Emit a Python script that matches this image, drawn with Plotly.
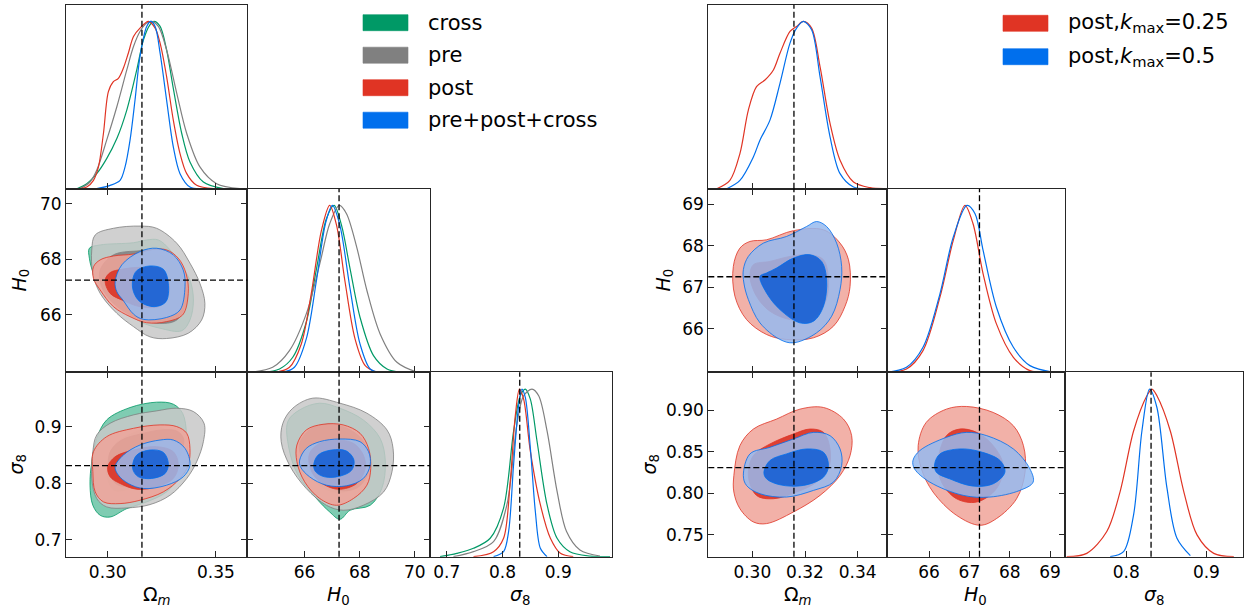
import plotly.graph_objects as go

W, H = 1250, 609
FONT = "DejaVu Sans"

# ---------------- series / legend ----------------
LEFT_SERIES = ["cross", "pre", "post", "all"]
LEFT_LABELS = ["cross", "pre", "post", "pre+post+cross"]
RIGHT_SERIES = ["post", "all"]
RIGHT_LABELS = ["post,<i>k</i><sub>max</sub>=0.25", "post,<i>k</i><sub>max</sub>=0.5"]

COLOR = {"cross": "#009966", "pre": "#808080", "post": "#E03424", "all": "#006FED"}
FILL2 = {"cross": "rgba(0,153,102,0.5)", "pre": "rgba(200,200,200,0.85)",
         "post": "rgba(240,163,153,0.85)", "all": "rgba(150,186,238,0.85)"}
FILL1 = {"cross": "rgba(0,153,102,0.85)", "pre": "rgba(128,128,128,0.85)",
         "post": "rgba(218,48,34,0.88)", "all": "rgba(22,96,212,0.9)"}

# fiducial values (dashed markers)
OM_FID, H0_FID, S8_FID = 0.3158, 67.25, 0.831

# axis ranges / ticks
L_RANGES = [[0.2807, 0.3645], [63.92, 70.55], [0.670, 0.996]]
R_RANGES = [[0.2833, 0.3510], [64.95, 69.37], [0.7237, 0.9460]]
L_XTICKS = [[0.30, 0.35], [66, 68, 70], [0.7, 0.8, 0.9]]
L_XTEXT = [["0.30", "0.35"], ["66", "68", "70"], ["0.7", "0.8", "0.9"]]
L_YTICKS = [None, [66, 68, 70], [0.7, 0.8, 0.9]]
L_YTEXT = [None, ["66", "68", "70"], ["0.7", "0.8", "0.9"]]
R_XTICKS = [[0.30, 0.32, 0.34], [66, 67, 68, 69], [0.8, 0.9]]
R_XTEXT = [["0.30", "0.32", "0.34"], ["66", "67", "68", "69"], ["0.8", "0.9"]]
R_YTICKS = [None, [66, 67, 68, 69], [0.75, 0.80, 0.85, 0.90]]
R_YTEXT = [None, ["66", "67", "68", "69"], ["0.75", "0.80", "0.85", "0.90"]]
AX_TITLES = ["Ω<sub><i>m</i></sub>", "<i>H</i><sub>0</sub>", "<i>σ</i><sub>8</sub>"]

# ---------------- 1D marginals (x, normalised density) ----------------
L_OM_CROSS = ([0.2857, 0.2903, 0.2949, 0.2995, 0.3042, 0.3088, 0.3134, 0.3165, 0.3195, 0.3214, 0.3242, 0.3272, 0.3303, 0.3342, 0.3380, 0.3442, 0.3534],
              [0, 0.03, 0.09, 0.18, 0.30, 0.47, 0.71, 0.89, 0.98, 1.0, 0.97, 0.83, 0.60, 0.33, 0.16, 0.04, 0])
L_OM_PRE = ([0.2872, 0.2918, 0.2949, 0.2995, 0.3042, 0.3088, 0.3119, 0.3149, 0.3180, 0.3203, 0.3234, 0.3272, 0.3319, 0.3365, 0.3426, 0.3503, 0.3611],
            [0, 0.04, 0.11, 0.29, 0.49, 0.71, 0.85, 0.94, 0.99, 1.0, 0.97, 0.83, 0.57, 0.33, 0.13, 0.03, 0])
L_OM_POST = ([0.2865, 0.2903, 0.2934, 0.2957, 0.2980, 0.3003, 0.3026, 0.3049, 0.3072, 0.3095, 0.3119, 0.3149, 0.3188, 0.3219, 0.3242, 0.3272, 0.3303, 0.3334, 0.3365, 0.3411, 0.3488],
             [0, 0.01, 0.05, 0.13, 0.33, 0.58, 0.64, 0.66, 0.72, 0.81, 0.91, 0.96, 1.0, 0.96, 0.87, 0.67, 0.41, 0.21, 0.09, 0.02, 0])
L_OM_ALL = ([0.2949, 0.3011, 0.3057, 0.3080, 0.3103, 0.3126, 0.3149, 0.3180, 0.3199, 0.3219, 0.3242, 0.3272, 0.3303, 0.3334, 0.3380, 0.3426],
            [0, 0.02, 0.05, 0.13, 0.29, 0.53, 0.79, 0.97, 1.0, 0.97, 0.81, 0.53, 0.25, 0.09, 0.01, 0])

L_H0_CROSS = ([64.48, 65.09, 65.57, 66.06, 66.43, 66.79, 67.07, 67.34, 67.65, 68.01, 68.50, 68.99, 69.48],
              [0, 0.02, 0.09, 0.30, 0.62, 0.92, 1.0, 0.88, 0.62, 0.33, 0.10, 0.02, 0])
L_H0_PRE = ([63.99, 64.84, 65.45, 66.06, 66.55, 66.91, 67.26, 67.52, 67.89, 68.26, 68.74, 69.35, 70.09],
            [0, 0.03, 0.13, 0.35, 0.65, 0.89, 1.0, 0.95, 0.75, 0.49, 0.23, 0.06, 0])
L_H0_POST = ([64.96, 65.45, 65.88, 66.24, 66.61, 66.91, 67.16, 67.46, 67.83, 68.20, 68.62],
             [0, 0.03, 0.17, 0.47, 0.85, 1.0, 0.88, 0.55, 0.20, 0.04, 0])
L_H0_ALL = ([65.21, 65.63, 66.06, 66.43, 66.77, 67.01, 67.28, 67.65, 68.01, 68.38, 68.74],
            [0, 0.03, 0.20, 0.55, 0.90, 1.0, 0.88, 0.50, 0.17, 0.02, 0])

L_S8_CROSS = ([0.688, 0.718, 0.748, 0.778, 0.802, 0.820, 0.832, 0.841, 0.850, 0.862, 0.880, 0.898, 0.921, 0.957, 0.993],
              [0, 0.02, 0.05, 0.11, 0.29, 0.75, 0.96, 1.0, 0.94, 0.69, 0.31, 0.11, 0.03, 0.004, 0])
L_S8_PRE = ([0.712, 0.748, 0.784, 0.808, 0.826, 0.838, 0.853, 0.865, 0.880, 0.898, 0.915, 0.939, 0.975],
            [0, 0.03, 0.09, 0.31, 0.79, 0.96, 1.0, 0.96, 0.75, 0.39, 0.15, 0.04, 0.004])
L_S8_POST = ([0.748, 0.784, 0.802, 0.814, 0.823, 0.8305, 0.838, 0.850, 0.868, 0.886, 0.904, 0.927],
             [0, 0.03, 0.11, 0.45, 0.84, 1.0, 0.94, 0.63, 0.31, 0.11, 0.02, 0])
L_S8_ALL = ([0.784, 0.802, 0.811, 0.820, 0.829, 0.835, 0.841, 0.850, 0.859, 0.868, 0.880],
            [0, 0.03, 0.15, 0.55, 0.90, 1.0, 0.95, 0.65, 0.27, 0.05, 0])

R_OM_POST = ([0.2865, 0.2915, 0.2953, 0.2985, 0.3016, 0.3048, 0.3080, 0.3105, 0.3143, 0.3168, 0.3194, 0.3225, 0.3257, 0.3295, 0.3333, 0.3384, 0.3447, 0.3498],
             [0, 0.05, 0.21, 0.47, 0.61, 0.65, 0.71, 0.81, 0.94, 0.97, 1.0, 0.96, 0.73, 0.39, 0.17, 0.04, 0.006, 0])
R_OM_ALL = ([0.2903, 0.2953, 0.3004, 0.3029, 0.3067, 0.3105, 0.3143, 0.3168, 0.3194, 0.3225, 0.3257, 0.3295, 0.3333, 0.3384, 0.3434],
            [0, 0.05, 0.19, 0.29, 0.41, 0.63, 0.87, 0.96, 1.0, 0.95, 0.67, 0.31, 0.09, 0.01, 0])
R_H0_POST = ([64.94, 65.44, 65.85, 66.27, 66.60, 66.89, 67.09, 67.34, 67.67, 68.09, 68.50, 68.92],
             [0, 0.02, 0.13, 0.45, 0.79, 1.0, 0.89, 0.59, 0.29, 0.09, 0.01, 0])
R_H0_ALL = ([64.94, 65.44, 65.85, 66.27, 66.60, 66.94, 67.14, 67.34, 67.67, 68.09, 68.50, 69.08],
            [0, 0.03, 0.15, 0.47, 0.81, 1.0, 0.95, 0.73, 0.39, 0.15, 0.04, 0])
R_S8_POST = ([0.7258, 0.7508, 0.7758, 0.7925, 0.8092, 0.8258, 0.8321, 0.8383, 0.855, 0.8717, 0.8883, 0.9092, 0.9342],
             [0, 0.02, 0.15, 0.39, 0.75, 0.96, 1.0, 0.96, 0.75, 0.39, 0.13, 0.02, 0])
R_S8_ALL = ([0.78, 0.7967, 0.8092, 0.8196, 0.8292, 0.8383, 0.8508, 0.8633, 0.88],
            [0, 0.03, 0.25, 0.75, 1.0, 0.89, 0.41, 0.11, 0.006])

# ---------------- 2D contours (2sigma outer, 1sigma inner) ----------------
# left: Omega_m - H0
L_OH_CROSS_2 = ([0.2915, 0.2965, 0.3119, 0.3180, 0.3234, 0.3288, 0.3342, 0.3380, 0.3396, 0.3380, 0.3342, 0.3242, 0.3149, 0.3057, 0.2980, 0.2934, 0.2915],
                [68.40, 68.52, 68.60, 68.70, 68.70, 68.34, 67.73, 67.25, 66.53, 65.81, 65.42, 65.51, 65.75, 66.29, 66.89, 67.49, 68.04])
L_OH_CROSS_1 = ([0.2975, 0.3030, 0.3130, 0.3230, 0.3300, 0.3340, 0.3340, 0.3290, 0.3195, 0.3110, 0.3035, 0.2985],
                [67.60, 67.98, 68.15, 68.18, 67.90, 67.30, 66.55, 66.00, 65.90, 66.15, 66.60, 67.10])
L_OH_PRE_2 = ([0.2942, 0.3026, 0.3149, 0.3226, 0.3319, 0.3380, 0.3426, 0.3449, 0.3434, 0.3372, 0.3272, 0.3195, 0.3119, 0.3042, 0.2965, 0.2931, 0.2926],
              [68.88, 69.12, 69.20, 69.12, 68.58, 67.86, 67.13, 66.41, 65.81, 65.33, 65.14, 65.20, 65.57, 66.05, 66.77, 67.49, 68.34])
L_OH_PRE_1 = ([0.2965, 0.3026, 0.3149, 0.3242, 0.3303, 0.3349, 0.3365, 0.3319, 0.3226, 0.3119, 0.3026, 0.2972],
              [67.61, 68.16, 68.31, 68.36, 68.10, 67.37, 66.53, 65.81, 65.69, 65.93, 66.41, 67.01])
L_OH_POST_2 = ([0.2934, 0.2965, 0.3026, 0.3119, 0.3211, 0.3272, 0.3326, 0.3362, 0.3372, 0.3346, 0.3272, 0.3180, 0.3103, 0.3026, 0.2965, 0.2934],
               [67.73, 67.98, 68.12, 68.19, 68.36, 68.34, 68.04, 67.49, 66.77, 65.99, 65.75, 65.71, 65.93, 66.29, 66.89, 67.31])
L_OH_POST_1 = ([0.2988, 0.3011, 0.3065, 0.3149, 0.3242, 0.3280, 0.3280, 0.3242, 0.3149, 0.3072, 0.3011],
               [67.25, 67.52, 67.64, 67.71, 67.64, 67.25, 66.65, 66.31, 66.29, 66.51, 66.77])
L_OH_ALL_2 = ([0.3034, 0.3065, 0.3149, 0.3226, 0.3303, 0.3349, 0.3357, 0.3334, 0.3272, 0.3165, 0.3119, 0.3072, 0.3042],
              [67.19, 67.80, 68.28, 68.40, 68.16, 67.61, 67.01, 66.17, 65.90, 65.83, 66.02, 66.51, 66.83])
L_OH_ALL_1 = ([0.3115, 0.3134, 0.3195, 0.3257, 0.3280, 0.3269, 0.3214, 0.3149, 0.3119],
              [67.25, 67.59, 67.76, 67.64, 67.13, 66.47, 66.29, 66.47, 66.83])

# left: Omega_m - sigma8
L_OS_CROSS_2 = ([0.2995, 0.3103, 0.3226, 0.3303, 0.3346, 0.3365, 0.3365, 0.3334, 0.3272, 0.3180, 0.3088, 0.3011, 0.2965, 0.2931, 0.2918, 0.2926, 0.2949],
                [0.9118, 0.9337, 0.9432, 0.9396, 0.9237, 0.8852, 0.8438, 0.8142, 0.7846, 0.7669, 0.7550, 0.7402, 0.7432, 0.7609, 0.7964, 0.8379, 0.8793])
L_OS_CROSS_1 = ([0.3000, 0.3041, 0.3122, 0.3202, 0.3260, 0.3283, 0.3283, 0.3249, 0.3179, 0.3099, 0.3029, 0.2997],
                [0.8429, 0.8717, 0.8894, 0.9005, 0.8961, 0.8783, 0.8473, 0.8207, 0.8007, 0.7896, 0.7874, 0.8118])
L_OS_PRE_2 = ([0.2949, 0.3011, 0.3119, 0.3226, 0.3319, 0.3396, 0.3445, 0.3442, 0.3411, 0.3365, 0.3288, 0.3195, 0.3088, 0.2995, 0.2949, 0.2926, 0.2931],
              [0.8852, 0.9059, 0.9207, 0.9278, 0.9325, 0.9266, 0.9059, 0.8734, 0.8379, 0.8083, 0.7787, 0.7621, 0.7562, 0.7580, 0.7728, 0.8083, 0.8556])
L_OS_PRE_1 = ([0.3009, 0.3062, 0.3157, 0.3250, 0.3321, 0.3351, 0.3339, 0.3298, 0.3215, 0.3122, 0.3039, 0.3009],
              [0.8534, 0.8757, 0.8874, 0.8941, 0.8919, 0.8779, 0.8534, 0.8257, 0.8033, 0.7942, 0.7987, 0.8223])
L_OS_POST_2 = ([0.2934, 0.2995, 0.3119, 0.3242, 0.3319, 0.3365, 0.3380, 0.3372, 0.3334, 0.3257, 0.3149, 0.3057, 0.2980, 0.2942, 0.2931],
               [0.8556, 0.8822, 0.8970, 0.9030, 0.9000, 0.8882, 0.8615, 0.8320, 0.8083, 0.7846, 0.7698, 0.7639, 0.7669, 0.7846, 0.8201])
L_OS_POST_1 = ([0.3000, 0.3034, 0.3119, 0.3226, 0.3303, 0.3326, 0.3303, 0.3226, 0.3134, 0.3057, 0.3011],
               [0.8290, 0.8467, 0.8586, 0.8645, 0.8556, 0.8320, 0.8083, 0.7935, 0.7893, 0.7994, 0.8112])
L_OS_ALL_2 = ([0.3034, 0.3072, 0.3149, 0.3242, 0.3303, 0.3357, 0.3380, 0.3349, 0.3272, 0.3165, 0.3095, 0.3049],
              [0.8290, 0.8497, 0.8675, 0.8763, 0.8763, 0.8615, 0.8320, 0.8112, 0.7964, 0.7905, 0.7994, 0.8142])
L_OS_ALL_1 = ([0.3115, 0.3134, 0.3195, 0.3257, 0.3280, 0.3265, 0.3203, 0.3142, 0.3119],
              [0.8320, 0.8497, 0.8586, 0.8544, 0.8349, 0.8172, 0.8083, 0.8112, 0.8213])

# left: H0 - sigma8
L_HS_CROSS_2 = ([65.39, 65.82, 66.55, 67.28, 68.13, 68.74, 68.93, 68.80, 68.38, 67.65, 67.28, 66.91, 66.43, 65.76, 65.43],
                [0.9089, 0.9296, 0.9414, 0.9325, 0.9118, 0.8793, 0.8379, 0.7905, 0.7609, 0.7521, 0.7361, 0.7491, 0.7728, 0.8142, 0.8615])
L_HS_CROSS_1 = ([65.90, 66.25, 66.83, 67.42, 67.90, 68.15, 68.10, 67.71, 67.13, 66.54, 66.06],
                [0.8616, 0.8888, 0.8998, 0.8927, 0.8738, 0.8454, 0.8099, 0.7886, 0.7838, 0.7957, 0.8237])
L_HS_PRE_2 = ([65.21, 65.57, 66.30, 67.28, 68.26, 68.99, 69.21, 69.17, 68.87, 68.13, 67.40, 66.79, 66.06, 65.45, 65.15],
              [0.9059, 0.9325, 0.9503, 0.9414, 0.9237, 0.8941, 0.8615, 0.8201, 0.7846, 0.7609, 0.7521, 0.7609, 0.7905, 0.8320, 0.8734])
L_HS_PRE_1 = ([65.81, 66.19, 66.86, 67.53, 68.10, 68.33, 68.29, 67.91, 67.24, 66.58, 66.05],
              [0.8672, 0.8950, 0.9042, 0.8973, 0.8765, 0.8487, 0.8165, 0.7918, 0.7872, 0.8023, 0.8302])
L_HS_POST_2 = ([65.72, 66.06, 66.67, 67.40, 68.01, 68.32, 68.40, 68.26, 67.77, 67.16, 66.55, 66.00, 65.72],
               [0.8675, 0.8941, 0.9041, 0.9030, 0.8882, 0.8615, 0.8260, 0.7964, 0.7728, 0.7609, 0.7728, 0.8024, 0.8379])
L_HS_POST_1 = ([66.18, 66.55, 67.16, 67.77, 68.13, 68.20, 67.89, 67.22, 66.55, 66.21],
               [0.8527, 0.8704, 0.8763, 0.8704, 0.8497, 0.8260, 0.7994, 0.7893, 0.8024, 0.8260])
L_HS_ALL_2 = ([65.82, 66.06, 66.55, 67.28, 68.01, 68.32, 68.38, 68.13, 67.52, 66.79, 66.18, 65.85],
              [0.8408, 0.8615, 0.8734, 0.8781, 0.8734, 0.8556, 0.8320, 0.8083, 0.7953, 0.7964, 0.8112, 0.8290])
L_HS_ALL_1 = ([66.33, 66.49, 66.98, 67.52, 67.79, 67.71, 67.28, 66.73, 66.40],
              [0.8320, 0.8497, 0.8586, 0.8568, 0.8408, 0.8231, 0.8124, 0.8112, 0.8201])

# right: Omega_m - H0
R_OH_POST_2 = ([0.2928, 0.2953, 0.2991, 0.3054, 0.3156, 0.3270, 0.3333, 0.3365, 0.3371, 0.3352, 0.3308, 0.3232, 0.3130, 0.3054, 0.2978, 0.2934],
               [67.50, 67.94, 68.10, 68.14, 68.36, 68.38, 68.06, 67.66, 67.02, 66.54, 66.06, 65.78, 65.74, 65.86, 66.22, 66.78])
R_OH_POST_1 = ([0.2991, 0.3004, 0.3067, 0.3143, 0.3219, 0.3270, 0.3289, 0.3276, 0.3219, 0.3143, 0.3067, 0.3016],
               [67.26, 67.54, 67.62, 67.74, 67.78, 67.66, 67.18, 66.62, 66.22, 66.22, 66.42, 66.78])
R_OH_ALL_2 = ([0.2966, 0.2985, 0.3042, 0.3130, 0.3206, 0.3244, 0.3282, 0.3320, 0.3339, 0.3333, 0.3301, 0.3244, 0.3156, 0.3105, 0.3029, 0.2985, 0.2968],
              [67.42, 67.74, 68.06, 68.22, 68.46, 68.58, 68.46, 68.06, 67.50, 66.94, 66.30, 65.90, 65.66, 65.74, 66.14, 66.70, 67.10])
R_OH_ALL_1 = ([0.3029, 0.3054, 0.3092, 0.3156, 0.3219, 0.3263, 0.3282, 0.3270, 0.3232, 0.3181, 0.3105, 0.3054],
              [67.26, 67.34, 67.46, 67.70, 67.78, 67.62, 67.18, 66.54, 66.18, 66.14, 66.46, 66.86])

# right: Omega_m - sigma8
R_OS_POST_2 = ([0.2930, 0.2953, 0.3004, 0.3092, 0.3181, 0.3270, 0.3346, 0.3377, 0.3371, 0.3333, 0.3257, 0.3156, 0.3054, 0.3004, 0.2953, 0.2930],
               [0.8216, 0.8576, 0.8776, 0.8896, 0.9016, 0.9036, 0.8896, 0.8696, 0.8456, 0.8216, 0.7976, 0.7776, 0.7636, 0.7656, 0.7816, 0.8016])
R_OS_POST_1 = ([0.2985, 0.3004, 0.3067, 0.3156, 0.3219, 0.3270, 0.3295, 0.3289, 0.3244, 0.3168, 0.3080, 0.3016],
               [0.8216, 0.8456, 0.8596, 0.8716, 0.8776, 0.8736, 0.8536, 0.8296, 0.8136, 0.8016, 0.7936, 0.7976])
R_OS_ALL_2 = ([0.2966, 0.2991, 0.3067, 0.3156, 0.3232, 0.3295, 0.3333, 0.3339, 0.3308, 0.3232, 0.3130, 0.3029, 0.2978],
              [0.8216, 0.8476, 0.8556, 0.8656, 0.8736, 0.8696, 0.8536, 0.8336, 0.8136, 0.8036, 0.7956, 0.7996, 0.8096])
R_OS_ALL_1 = ([0.3044, 0.3067, 0.3130, 0.3206, 0.3270, 0.3289, 0.3270, 0.3194, 0.3105, 0.3054],
              [0.8256, 0.8396, 0.8476, 0.8536, 0.8496, 0.8336, 0.8196, 0.8096, 0.8104, 0.8176])

# right: H0 - sigma8
R_HS_POST_2 = ([65.73, 65.93, 66.43, 66.93, 67.59, 68.09, 68.34, 68.38, 68.17, 67.67, 67.26, 66.68, 66.10, 65.81],
               [0.8576, 0.8856, 0.9016, 0.9048, 0.8976, 0.8816, 0.8576, 0.8256, 0.7936, 0.7696, 0.7616, 0.7736, 0.8016, 0.8296])
R_HS_POST_1 = ([66.22, 66.43, 66.76, 67.18, 67.59, 67.84, 67.67, 67.18, 66.68, 66.31],
               [0.8376, 0.8696, 0.8776, 0.8736, 0.8576, 0.8336, 0.8056, 0.7896, 0.7936, 0.8136])
R_HS_ALL_2 = ([65.60, 65.77, 66.43, 66.93, 67.43, 68.09, 68.50, 68.58, 68.25, 67.51, 66.85, 66.02, 65.64],
              [0.8396, 0.8516, 0.8676, 0.8736, 0.8696, 0.8536, 0.8296, 0.8136, 0.8036, 0.7956, 0.7976, 0.8136, 0.8296])
R_HS_ALL_1 = ([66.14, 66.27, 66.76, 67.26, 67.76, 67.88, 67.59, 67.09, 66.51, 66.18],
              [0.8356, 0.8476, 0.8536, 0.8504, 0.8396, 0.8256, 0.8116, 0.8088, 0.8176, 0.8256])

# ---------------- assembly ----------------
TRIANGLES = [
    dict(cols=[(66, 247.3), (247.3, 430), (430, 611.7)], ranges=L_RANGES,
         xt=L_XTICKS, xtt=L_XTEXT, yt=L_YTICKS, ytt=L_YTEXT, series=LEFT_SERIES,
         diag={0: [L_OM_CROSS, L_OM_PRE, L_OM_POST, L_OM_ALL],
               1: [L_H0_CROSS, L_H0_PRE, L_H0_POST, L_H0_ALL],
               2: [L_S8_CROSS, L_S8_PRE, L_S8_POST, L_S8_ALL]},
         off={(1, 0): [(L_OH_CROSS_2, L_OH_CROSS_1), (L_OH_PRE_2, L_OH_PRE_1), (L_OH_POST_2, L_OH_POST_1), (L_OH_ALL_2, L_OH_ALL_1)],
              (2, 0): [(L_OS_CROSS_2, L_OS_CROSS_1), (L_OS_PRE_2, L_OS_PRE_1), (L_OS_POST_2, L_OS_POST_1), (L_OS_ALL_2, L_OS_ALL_1)],
              (2, 1): [(L_HS_CROSS_2, L_HS_CROSS_1), (L_HS_PRE_2, L_HS_PRE_1), (L_HS_POST_2, L_HS_POST_1), (L_HS_ALL_2, L_HS_ALL_1)]},
         ytitle_x=[None, 20, 17]),
    dict(cols=[(708.3, 886.7), (886.7, 1065), (1065, 1243.3)], ranges=R_RANGES,
         xt=R_XTICKS, xtt=R_XTEXT, yt=R_YTICKS, ytt=R_YTEXT, series=RIGHT_SERIES,
         diag={0: [R_OM_POST, R_OM_ALL], 1: [R_H0_POST, R_H0_ALL], 2: [R_S8_POST, R_S8_ALL]},
         off={(1, 0): [(R_OH_POST_2, R_OH_POST_1), (R_OH_ALL_2, R_OH_ALL_1)],
              (2, 0): [(R_OS_POST_2, R_OS_POST_1), (R_OS_ALL_2, R_OS_ALL_1)],
              (2, 1): [(R_HS_POST_2, R_HS_POST_1), (R_HS_ALL_2, R_HS_ALL_1)]},
         ytitle_x=[None, 664, 650]),
]
ROWS = [(4.7, 188.7), (188.7, 372.3), (372.3, 556.7)]
FIDS = [OM_FID, H0_FID, S8_FID]
PANELS = [(0, 0), (1, 0), (1, 1), (2, 0), (2, 1), (2, 2)]

fig = go.Figure()
layout = dict(width=W, height=H, margin=dict(l=0, r=0, t=0, b=0),
              paper_bgcolor="white", plot_bgcolor="white", showlegend=False,
              font=dict(family=FONT, size=17, color="black"))
shapes, annots = [], []
AX_COL = "#262626"


def closed(xs, ys):
    return list(xs) + [xs[0]], list(ys) + [ys[0]]


k = 0
for t, tri in enumerate(TRIANGLES):
    for (r, c) in PANELS:
        k += 1
        xname = "xaxis" if k == 1 else f"xaxis{k}"
        yname = "yaxis" if k == 1 else f"yaxis{k}"
        xr = "x" if k == 1 else f"x{k}"
        yr = "y" if k == 1 else f"y{k}"
        x0, x1 = tri["cols"][c]
        y0, y1 = ROWS[r]
        diag = (r == c)
        base = dict(showgrid=False, zeroline=False, showline=True, linecolor=AX_COL, linewidth=1,
                    ticks="inside", ticklen=6, tickwidth=1, tickcolor=AX_COL,
                    tickfont=dict(family=FONT, size=17, color="black"))
        xa = dict(base, domain=[x0 / W, x1 / W], anchor=yr, range=tri["ranges"][c],
                  tickvals=tri["xt"][c], ticktext=tri["xtt"][c],
                  showticklabels=(r == 2), mirror=(True if diag else "ticks"))
        if diag:
            ya = dict(base, domain=[1 - y1 / H, 1 - y0 / H], anchor=xr, range=[0, 1.1],
                      ticks="", showticklabels=False, mirror=True)
        else:
            ya = dict(base, domain=[1 - y1 / H, 1 - y0 / H], anchor=xr, range=tri["ranges"][r],
                      tickvals=tri["yt"][r], ticktext=tri["ytt"][r],
                      showticklabels=(c == 0), mirror="ticks")
        layout[xname] = xa
        layout[yname] = ya

        if diag:
            for s, (xs, ps) in zip(tri["series"], tri["diag"][c]):
                fig.add_trace(go.Scatter(x=xs, y=ps, mode="lines", xaxis=xr, yaxis=yr,
                                         line=dict(color=COLOR[s], width=1.2, shape="spline", smoothing=0.9),
                                         hoverinfo="skip"))
        else:
            for s, (c2, c1) in zip(tri["series"], tri["off"][(r, c)]):
                for cont, fc in ((c2, FILL2[s]), (c1, FILL1[s])):
                    xs, ys = closed(*cont)
                    fig.add_trace(go.Scatter(x=xs, y=ys, mode="lines", fill="toself", fillcolor=fc,
                                             xaxis=xr, yaxis=yr,
                                             line=dict(color=COLOR[s], width=0.8, shape="spline", smoothing=1.0),
                                             hoverinfo="skip"))
            shapes.append(dict(type="line", xref=f"{xr} domain", yref=yr, x0=0, x1=1,
                               y0=FIDS[r], y1=FIDS[r], line=dict(color="black", width=1.3, dash="6px,3px")))
        shapes.append(dict(type="line", xref=xr, yref=f"{yr} domain", x0=FIDS[c], x1=FIDS[c],
                           y0=0, y1=1, line=dict(color="black", width=1.3, dash="6px,3px")))

        if r == 2:
            annots.append(dict(text=AX_TITLES[c], xref="paper", yref="paper",
                               x=(x0 + x1) / 2 / W, y=1 - 595 / H, showarrow=False,
                               xanchor="center", yanchor="middle", font=dict(family=FONT, size=19)))
        if c == 0 and r > 0:
            annots.append(dict(text=AX_TITLES[r], xref="paper", yref="paper",
                               x=tri["ytitle_x"][r] / W, y=1 - (y0 + y1) / 2 / H, showarrow=False,
                               textangle=-90, xanchor="center", yanchor="middle",
                               font=dict(family=FONT, size=19)))

# legends (patches + text)
LEG = [(LEFT_SERIES, LEFT_LABELS, 363, 426, [22.7, 55.2, 87.7, 120.2]),
       (RIGHT_SERIES, RIGHT_LABELS, 1003, 1066, [23.3, 56.7])]
for series, labels, px0, tx, ys in LEG:
    for s, lab, yc in zip(series, labels, ys):
        shapes.append(dict(type="rect", xref="paper", yref="paper",
                           x0=px0 / W, x1=(px0 + 45) / W, y0=1 - (yc + 8) / H, y1=1 - (yc - 8) / H,
                           fillcolor=COLOR[s], line=dict(width=0.6, color=COLOR[s])))
        annots.append(dict(text=lab, xref="paper", yref="paper", x=tx / W, y=1 - yc / H,
                           showarrow=False, xanchor="left", yanchor="middle",
                           font=dict(family=FONT, size=21, color="black")))

layout["shapes"] = shapes
layout["annotations"] = annots
fig.update_layout(**layout)
fig.write_html("out.html", config={"displayModeBar": False},
               post_script="document.body.style.margin='0px';")
